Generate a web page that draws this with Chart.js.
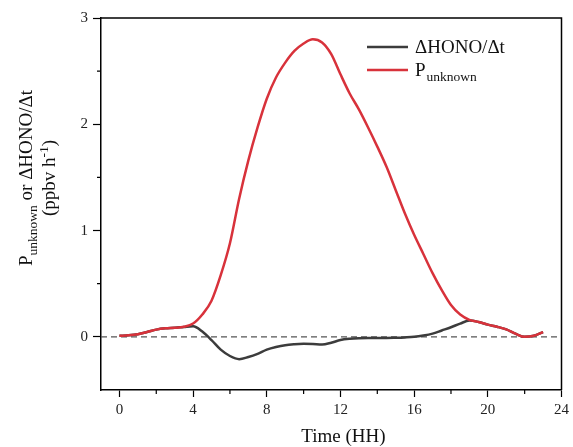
<!DOCTYPE html>
<html>
<head>
<meta charset="utf-8">
<script src="https://cdn.jsdelivr.net/npm/chart.js@4.4.1/dist/chart.umd.min.js"></script>
<style>
html,body{margin:0;padding:0;background:#fff;}
#wrap{width:573px;height:447px;}
</style>
</head>
<body>
<div id="wrap"><canvas id="c" width="573" height="447"></canvas></div>
<script>
// ---- data ----
const hours = [0,0.5,1,1.5,2,2.5,3,3.5,4,4.5,5,5.5,6,6.5,7,7.5,8,8.5,9,9.5,10,10.5,11,11.5,12,12.5,13,13.5,14,14.5,15,15.5,16,16.5,17,17.5,18,18.5,19,19.5,20,20.5,21,21.5,22,22.5,23];
const pUnknown = [0.01,0.015,0.025,0.045,0.068,0.08,0.085,0.095,0.125,0.21,0.34,0.58,0.88,1.30,1.66,1.97,2.24,2.44,2.58,2.69,2.76,2.80,2.77,2.66,2.47,2.29,2.14,1.97,1.79,1.60,1.38,1.16,0.96,0.78,0.60,0.44,0.30,0.21,0.16,0.14,0.115,0.095,0.07,0.03,0.0,0.01,0.045];
const dHONO = [0.01,0.015,0.025,0.045,0.068,0.08,0.085,0.093,0.1,0.05,-0.03,-0.12,-0.18,-0.21,-0.19,-0.16,-0.12,-0.095,-0.078,-0.07,-0.066,-0.068,-0.072,-0.055,-0.03,-0.018,-0.012,-0.01,-0.01,-0.01,-0.008,-0.005,0.0,0.012,0.03,0.06,0.09,0.125,0.153,0.14,0.115,0.095,0.07,0.03,0.0,0.01,0.045];
const xMajorTicks = [0,4,8,12,16,20,24];
const xMinorTicks = [2,6,10,14,18,22];
const yMajorTicks = [0,1,2,3];
const yMinorTicks = [0.5,1.5,2.5];
const seriesNames = ["ΔHONO/Δt", "P"];

const RED = '#d8323b';
const DARK = '#3c3c3c';
const SERIF = '"Liberation Serif", "Times New Roman", serif';

function pts(xs, ys){ return xs.map((x,i)=>({x:x, y:ys[i]})); }

const decor = {
  id:'decor',
  beforeDatasetsDraw(chart){
    const {ctx, chartArea:a, scales:{y}} = chart;
    const py = y.getPixelForValue(0);
    ctx.save();
    ctx.strokeStyle = '#555';
    ctx.lineWidth = 1.2;
    ctx.setLineDash([6,4]);
    ctx.beginPath(); ctx.moveTo(a.left, py); ctx.lineTo(a.right, py); ctx.stroke();
    ctx.restore();
  },
  afterDraw(chart){
    const {ctx, chartArea:a, scales:{x,y}} = chart;
    ctx.save();
    // frame top/right
    ctx.strokeStyle = '#000'; ctx.lineWidth = 1.5;
    ctx.beginPath();
    ctx.moveTo(a.left, a.top); ctx.lineTo(a.right, a.top); ctx.lineTo(a.right, a.bottom);
    ctx.stroke();
    // minor ticks
    ctx.lineWidth = 1.2;
    ctx.beginPath();
    xMinorTicks.forEach(v=>{ const px = x.getPixelForValue(v); ctx.moveTo(px, a.bottom); ctx.lineTo(px, a.bottom+4); });
    yMinorTicks.forEach(v=>{ const py = y.getPixelForValue(v); ctx.moveTo(a.left, py); ctx.lineTo(a.left-4, py); });
    ctx.stroke();
    // legend
    const lx0 = a.left + 266, lx1 = a.left + 307, tx = a.left + 314;
    const ly = [a.top + 29, a.top + 52];
    ctx.lineWidth = 2.5;
    ctx.strokeStyle = DARK; ctx.beginPath(); ctx.moveTo(lx0, ly[0]); ctx.lineTo(lx1, ly[0]); ctx.stroke();
    ctx.strokeStyle = RED; ctx.beginPath(); ctx.moveTo(lx0, ly[1]); ctx.lineTo(lx1, ly[1]); ctx.stroke();
    ctx.fillStyle = '#111';
    ctx.textBaseline = 'middle'; ctx.textAlign = 'left';
    ctx.font = '19px ' + SERIF;
    ctx.fillText(seriesNames[0], tx, ly[0]+1);
    ctx.fillText(seriesNames[1], tx, ly[1]+1);
    const pw = ctx.measureText(seriesNames[1]).width;
    ctx.font = '13.5px ' + SERIF;
    ctx.fillText('unknown', tx + pw + 1, ly[1] + 7);
    // x title
    ctx.font = '19px ' + SERIF;
    ctx.textAlign = 'center';
    ctx.fillText('Time (HH)', x.getPixelForValue(12) + 3, a.bottom + 47);
    // y title (rotated)
    const cy = 178;
    const big = '19px ' + SERIF, small = '13.5px ' + SERIF;
    // line 1
    ctx.save();
    ctx.translate(27, cy);
    ctx.rotate(-Math.PI/2);
    ctx.textAlign = 'left';
    ctx.font = big; const w1 = ctx.measureText('P').width;
    ctx.font = small; const w2 = ctx.measureText('unknown').width;
    ctx.font = big; const w3 = ctx.measureText(' or ΔHONO/Δt').width;
    let sx = -(w1+w2+w3)/2;
    ctx.font = big; ctx.fillText('P', sx, 0); sx += w1;
    ctx.font = small; ctx.fillText('unknown', sx, 6); sx += w2;
    ctx.font = big; ctx.fillText(' or ΔHONO/Δt', sx, 0);
    ctx.restore();
    // line 2
    ctx.save();
    ctx.translate(50, cy);
    ctx.rotate(-Math.PI/2);
    ctx.textAlign = 'left';
    ctx.font = big; const a1 = ctx.measureText('(ppbv h').width;
    ctx.font = small; const a2 = ctx.measureText('-1').width;
    ctx.font = big; const a3 = ctx.measureText(')').width;
    let s2 = -(a1+a2+a3)/2;
    ctx.font = big; ctx.fillText('(ppbv h', s2, 0); s2 += a1;
    ctx.font = small; ctx.fillText('-1', s2, -6); s2 += a2;
    ctx.font = big; ctx.fillText(')', s2, 0);
    ctx.restore();
    ctx.restore();
  }
};

new Chart(document.getElementById('c'), {
  type:'line',
  data:{
    datasets:[
      {label:'P_unknown', data:pts(hours,pUnknown), borderColor:RED, borderWidth:2.5, pointRadius:0, cubicInterpolationMode:'monotone', order:0},
      {label:'ΔHONO/Δt', data:pts(hours,dHONO), borderColor:DARK, borderWidth:2.5, pointRadius:0, cubicInterpolationMode:'monotone', order:1}
    ]
  },
  options:{
    responsive:false,
    animation:false,
    devicePixelRatio:1,
    layout:{padding:{left:0,right:10,top:18,bottom:0}},
    plugins:{legend:{display:false}, tooltip:{enabled:false}},
    scales:{
      x:{
        type:'linear', min:-1, max:24,
        afterBuildTicks(s){ s.ticks = xMajorTicks.map(v=>({value:v})); },
        afterFit(s){ s.height = 57; },
        grid:{drawOnChartArea:false, drawTicks:true, tickLength:7, tickColor:'#000', tickWidth:1.2},
        border:{display:true, color:'#000', width:1.5},
        ticks:{font:{family:SERIF, size:15}, color:'#222', padding:4, maxRotation:0, autoSkip:false}
      },
      y:{
        min:-0.5, max:3,
        afterBuildTicks(s){ s.ticks = yMajorTicks.map(v=>({value:v})); },
        afterFit(s){ s.width = 101; },
        grid:{drawOnChartArea:false, drawTicks:true, tickLength:8, tickColor:'#000', tickWidth:1.2},
        border:{display:true, color:'#000', width:1.5},
        ticks:{font:{family:SERIF, size:15}, color:'#222', padding:5, autoSkip:false}
      }
    }
  },
  plugins:[decor]
});
</script>
</body>
</html>
